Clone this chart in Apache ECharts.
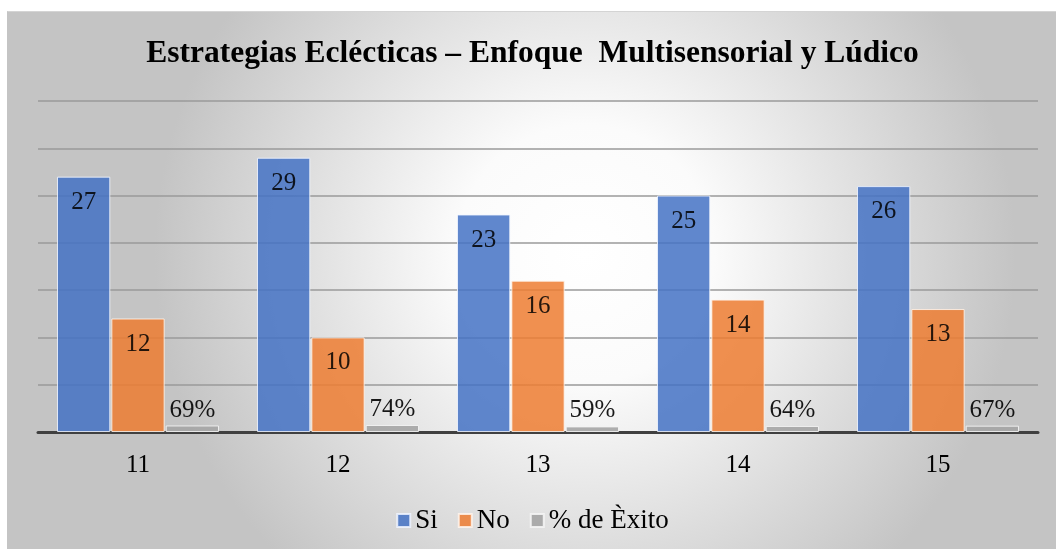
<!DOCTYPE html>
<html>
<head>
<meta charset="utf-8">
<script src="https://cdn.jsdelivr.net/npm/echarts@6/dist/echarts.min.js"></script>
<style>
  html, body { margin: 0; padding: 0; background: #fff; }
  #chart {
    position: absolute; left: 7px; top: 11px; width: 1049px; height: 538px;
    border-left: 1px solid #c4c4c4; border-top: 1px solid #d4d4d4;
  }
</style>
</head>
<body>
<div id="chart"></div>
<script>
const categories = ['11', '12', '13', '14', '15']
const siValues = [27, 29, 23, 25, 26]
const noValues = [12, 10, 16, 14, 13]
const exitoValues = [0.69, 0.74, 0.59, 0.64, 0.67]

const serif = '"Liberation Serif", "Times New Roman", serif'

const chart = echarts.init(document.getElementById('chart'))

const option = {
  backgroundColor: {
    type: 'radial', x: 0.55, y: 0.45, r: 0.8,
    colorStops: [
      { offset: 0, color: '#ffffff' },
      { offset: 0.3, color: '#fbfbfb' },
      { offset: 1, color: '#c4c4c4' },
    ],
  },
  textStyle: { fontFamily: serif },
  title: {
    text: 'Estrategias Eclécticas – Enfoque  Multisensorial y Lúdico',
    left: 'center',
    top: 21,
    textStyle: { fontFamily: serif, fontSize: 31.5, fontWeight: 'bold', color: '#000' },
  },
  legend: {
    bottom: 11,
    left: 'center',
    itemWidth: 13,
    itemHeight: 13,
    itemGap: 20,
    icon: 'rect',
    textStyle: { fontFamily: serif, fontSize: 27, color: '#000' },
    data: ['Si', 'No', '% de Èxito'],
  },
  grid: { left: 30, right: 19, top: 89, bottom: 118 },
  xAxis: {
    type: 'category',
    data: categories,
    axisLine: { lineStyle: { color: '#404040', width: 3 } },
    axisTick: { show: false },
    axisLabel: { fontFamily: serif, fontSize: 25, color: '#000', margin: 21 },
  },
  yAxis: {
    type: 'value',
    min: 0,
    max: 35,
    interval: 5,
    axisLabel: { show: false },
    axisLine: { show: false },
    axisTick: { show: false },
    splitLine: { lineStyle: { color: '#9a9a9a', width: 1.5 } },
  },
  series: [
    {
      name: 'Si',
      type: 'bar',
      data: siValues,
      barGap: '2%',
      barCategoryGap: '19%',
      itemStyle: { color: '#4472C4', opacity: 0.85, borderColor: '#f0f4ff', borderWidth: 1 },
      label: { show: true, position: 'insideTop', distance: 13, fontFamily: serif, fontSize: 25, color: '#000' },
    },
    {
      name: 'No',
      type: 'bar',
      data: noValues,
      itemStyle: { color: '#ED7D31', opacity: 0.85, borderColor: '#fff4ec', borderWidth: 1 },
      label: { show: true, position: 'insideTop', distance: 13, fontFamily: serif, fontSize: 25, color: '#000' },
    },
    {
      name: '% de Èxito',
      type: 'bar',
      data: exitoValues,
      itemStyle: { color: '#A5A5A5', opacity: 0.9, borderColor: '#f4f4f4', borderWidth: 1 },
      label: {
        show: true, position: 'top', distance: 3, fontFamily: serif, fontSize: 25, color: '#000',
        formatter: (p) => Math.round(p.value * 100) + '%',
      },
    },
  ],
}

chart.setOption(option)
</script>
</body>
</html>
